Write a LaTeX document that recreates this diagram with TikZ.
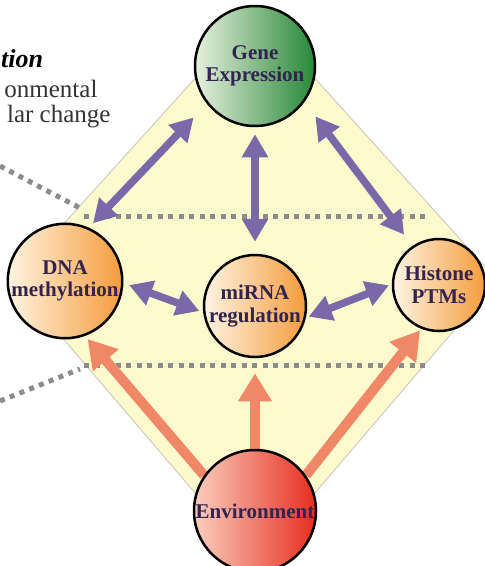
\documentclass[tikz,border=0pt]{standalone}
\usepackage{fontspec}
\setmainfont{Liberation Serif}
\usetikzlibrary{arrows.meta,backgrounds}

\definecolor{paleyellow}{RGB}{255,250,206}
\definecolor{edgegray}{RGB}{205,205,195}
\definecolor{dotgray}{RGB}{140,140,140}
\definecolor{arrowpurple}{RGB}{122,104,168}
\definecolor{arrowsalmon}{RGB}{240,136,104}
\definecolor{labelink}{RGB}{50,35,80}
\definecolor{palegreen}{RGB}{232,240,222}
\definecolor{leafgreen}{RGB}{38,136,56}
\definecolor{paleorange}{RGB}{255,244,226}
\definecolor{deeporange}{RGB}{244,156,60}
\definecolor{palered}{RGB}{250,206,190}
\definecolor{deepred}{RGB}{230,45,30}

\begin{document}
\begin{tikzpicture}[x=1pt, y=-1pt,
  every node/.style = {align=center, text=labelink,
    font=\bfseries\fontsize{21}{22.5}\selectfont},
  hub/.style = {circle, draw=black, line width=2.5pt, inner sep=0pt},
  link/.style = {{Triangle[length=23pt,width=25pt]}-{Triangle[length=23pt,width=25pt]},
    line width=7.5pt, draw=arrowpurple},
  cause/.style = {-{Triangle[length=28pt,width=32pt]}, line width=10pt, draw=arrowsalmon},
  dotline/.style = {line width=5pt, dash pattern=on 5pt off 5.5pt, draw=dotgray}]
  \useasboundingbox (0,0) rectangle (485,566);

  % left-hand text
  \node[anchor=base west, inner sep=0pt, text=black,
    font=\bfseries\itshape\fontsize{26}{28}\selectfont]
    (heading) at (1,67) {tion};
  \node[anchor=base east, text=black!80, font=\fontsize{25}{27}\selectfont]
    (noteone) at (101,97) {onmental};
  \node[anchor=base east, text=black!80, font=\fontsize{25}{27}\selectfont]
    (notetwo) at (114,122) {lar change};

  % the five circles
  \node[hub, minimum size=120pt, left color=palegreen, right color=leafgreen]
    (gene) at (255,66) {Gene\\Expression};
  \node[hub, minimum size=102pt, left color=paleorange, right color=deeporange]
    (dna) at (65,281) {DNA\\methylation};
  \node[hub, minimum size=102pt, left color=paleorange, right color=deeporange]
    (mirna) at (255,306) {miRNA\\regulation};
  \node[hub, minimum size=92pt, left color=paleorange, right color=deeporange]
    (histone) at (439,285) {Histone\\PTMs};
  \node[hub, minimum size=122pt, left color=palered, right color=deepred]
    (env) at (255,511) {Environment};

  \begin{scope}[on background layer]
    \clip (0,0) rectangle (485,566);
    \fill[paleyellow, draw=edgegray, line width=1pt]
      (255,12) -- (13,280) -- (255,563) -- (497,280) -- cycle;

    % dotted guides
    \draw[dotline] (0,166) -- (80,208);
    \draw[dotline] (84,216) -- (425,216);
    \draw[dotline] (0,401) -- (80,369);
    \draw[dotline] (84,365) -- (425,365);

    % two-way links
    \draw[link, shorten <=19pt, shorten >=6pt] (gene.218) -- (dna.66);
    \draw[link, shorten <=7pt, shorten >=12pt] (gene.south) -- (mirna.north);
    \draw[link, shorten <=18pt, shorten >=14pt] (gene.324) -- (histone.124);
    \draw[link, shorten <=6pt, shorten >=4pt] (dna.358) -- (mirna.187);
    \draw[link, shorten <=3pt, shorten >=3pt] (mirna.347) -- (histone.179);

    % environment effects
    \draw[cause, shorten >=4pt] (env.145) -- (dna.290);
    \draw[cause, shorten >=15pt] (env.north) -- (mirna.south);
    \draw[cause, shorten >=2pt] (env.35) -- (histone.248);
  \end{scope}
\end{tikzpicture}
\end{document}
